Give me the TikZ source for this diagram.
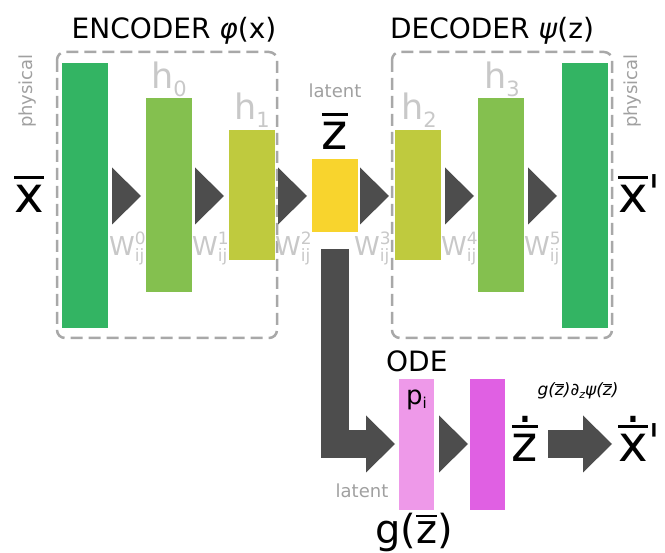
\documentclass[tikz,border=0pt]{standalone}
\usepackage{fontspec}
\setmainfont{DejaVu Sans}
\usetikzlibrary{shapes.geometric}
\definecolor{physical}{RGB}{51,180,99}
\definecolor{hidden}{RGB}{132,192,79}
\definecolor{inner}{RGB}{191,202,62}
\definecolor{latent}{RGB}{248,212,45}
\definecolor{odein}{RGB}{238,153,233}
\definecolor{odeout}{RGB}{224,96,227}
\definecolor{flow}{RGB}{77,77,77}
\definecolor{boxline}{RGB}{168,168,168}
\definecolor{faint}{RGB}{200,200,200}
\definecolor{note}{RGB}{160,160,160}
\tikzstyle{layer}=[rectangle, minimum width=46pt, inner sep=0pt, outer sep=0pt]
\tikzstyle{head}=[isosceles triangle, isosceles triangle stretches, minimum width=57pt, minimum height=29pt, fill=flow, inner sep=0pt, outer sep=0pt, anchor=apex]
\tikzset{stage/.style={draw=boxline, line width=2.5pt, dash pattern=on 12pt off 6pt, rounded corners=8pt}}
\tikzset{shaft/.style={draw=flow, line width=28pt}}
\tikzset{hlab/.style={anchor=base west, text=faint, inner sep=0pt, font=\fontsize{35}{35}\selectfont}}
\tikzset{wlab/.style={anchor=base west, text=faint, inner sep=0pt, font=\fontsize{26}{26}\selectfont}}
\tikzset{big/.style={anchor=base, inner sep=0pt, font=\fontsize{50}{50}\selectfont}}
\tikzset{small/.style={text=note, inner sep=0pt, font=\fontsize{18}{18}\selectfont}}
\newcommand{\ovl}[3]{\vbox{\hrule height #1\kern #2\hbox{#3}}}
\newsavebox{\dotbox}
\newcommand{\dotovl}[1]{\sbox\dotbox{#1}\vbox{\hbox to \wd\dotbox{\hss.\hss}\kern 3pt\hrule height 2.4pt\kern 7pt\box\dotbox}}
\newcommand{\hsub}[1]{h\raisebox{-8pt}{\fontsize{21}{21}\selectfont #1}}
\newcommand{\wij}[1]{W\rlap{\raisebox{11pt}{\fontsize{17}{17}\selectfont #1}}\raisebox{-6pt}{\fontsize{17}{17}\selectfont ij}}

\begin{document}
\begin{tikzpicture}[x=1pt,y=-1pt]
  \useasboundingbox (0,0) rectangle (665,553);
  %% Frames
  \draw[stage] (57,52) rectangle (277,338);
  \draw[stage] (392,52) rectangle (612,338);
  \draw (174,39) node[anchor=base, inner sep=0pt, font=\fontsize{28}{28}\selectfont] (enc) {ENCODER \textit{φ}(x)};
  \draw (492,39) node[anchor=base, inner sep=0pt, font=\fontsize{28}{28}\selectfont] (dec) {DECODER \textit{ψ}(z)};
  \draw (28,91) node[small, rotate=90] (physin) {physical};
  \draw (633,91) node[small, rotate=90] (physout) {physical};
  \draw (335,98) node[small, anchor=base] (latup) {latent};

  %% Layers
  \draw (85,195.5) node[layer, fill=physical, minimum height=265pt] (L0) {};
  \draw (169,195) node[layer, fill=hidden, minimum height=194pt] (L1) {};
  \draw (252,195) node[layer, fill=inner, minimum height=130pt] (L2) {};
  \draw (335,195.5) node[layer, fill=latent, minimum height=73pt] (L3) {};
  \draw (418,195) node[layer, fill=inner, minimum height=130pt] (L4) {};
  \draw (501,195) node[layer, fill=hidden, minimum height=194pt] (L5) {};
  \draw (585,195.5) node[layer, fill=physical, minimum height=265pt] (L6) {};

  \draw (151,89) node[hlab] (h0) {\hsub{0}};
  \draw (234,120) node[hlab] (h1) {\hsub{1}};
  \draw (401,120) node[hlab] (h2) {\hsub{2}};
  \draw (484,89) node[hlab] (h3) {\hsub{3}};

  %% Weights
  \draw (141,196) node[head] (T0) {};
  \draw (224,196) node[head] (T1) {};
  \draw (307,196) node[head] (T2) {};
  \draw (389,196) node[head] (T3) {};
  \draw (474,196) node[head] (T4) {};
  \draw (557,196) node[head] (T5) {};

  \draw (109,256) node[wlab] (W0) {\wij{0}};
  \draw (192,256) node[wlab] (W1) {\wij{1}};
  \draw (275,256) node[wlab] (W2) {\wij{2}};
  \draw (354,256) node[wlab] (W3) {\wij{3}};
  \draw (441,256) node[wlab] (W4) {\wij{4}};
  \draw (524,256) node[wlab] (W5) {\wij{5}};

  \draw (29,213) node[big] (xin) {\ovl{2.4pt}{7pt}{x}};
  \draw (335,150) node[big] (zbar) {\ovl{2.4pt}{7pt}{z}};
  \draw (618,213) node[big, anchor=base west] (xout) {\ovl{2.4pt}{7pt}{x}ˈ};

  %% ODE branch
  \draw (386,372) node[anchor=base west, inner sep=0pt, font=\fontsize{28}{28}\selectfont] (ode) {ODE};
  \draw (416.5,444.5) node[layer, fill=odein, minimum width=35pt, minimum height=131pt] (P) {};
  \draw (487.5,444.5) node[layer, fill=odeout, minimum width=35pt, minimum height=131pt] (Q) {};
  \draw (406,405) node[anchor=base west, inner sep=0pt, font=\fontsize{26}{26}\selectfont] (pi) {p\raisebox{-4pt}{\fontsize{15}{15}\selectfont i}};
  \draw (468,444) node[head] (T6) {};
  \draw (395,444) node[head] (H0) {};
  \draw (612,444) node[head] (H1) {};
  \draw[shaft] ([yshift=-17pt]L3.south) |- (H0);

  \draw (525,462) node[big] (zdot) {\dotovl{z}};
  \draw (618,462) node[big, anchor=base west] (xdot) {\dotovl{x}ˈ};
  \draw[shaft, shorten <=10pt] (zdot.east |- H1) -- (H1);
  \draw (578,396) node[anchor=base, inner sep=0pt, font=\fontsize{17}{17}\selectfont] (chain) {\textit{g(\ovl{0.8pt}{1.5pt}{z})∂\raisebox{-3pt}{\fontsize{11}{11}\selectfont z}ψ(\ovl{0.8pt}{1.5pt}{z})}};
  \draw (362,498) node[small, anchor=base] (latdown) {latent};
  \draw (414,544) node[anchor=base, inner sep=0pt, font=\fontsize{40}{40}\selectfont] (gz) {g(\ovl{2pt}{5pt}{z})};
\end{tikzpicture}
\end{document}
